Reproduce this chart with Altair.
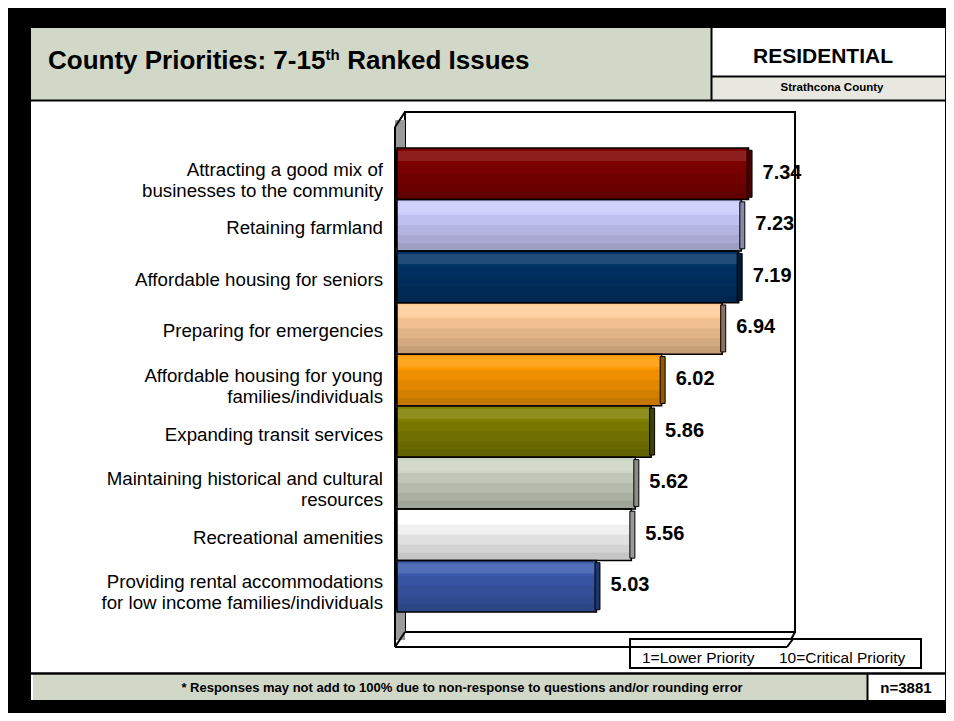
import altair as alt
import pandas as pd

# ---- data ----
categories = [
    "Attracting a good mix of\nbusinesses to the community",
    "Retaining farmland",
    "Affordable housing for seniors",
    "Preparing for emergencies",
    "Affordable housing for young\nfamilies/individuals",
    "Expanding transit services",
    "Maintaining historical and cultural\nresources",
    "Recreational amenities",
    "Providing rental accommodations\nfor low income families/individuals",
]
values = [7.34, 7.23, 7.19, 6.94, 6.02, 5.86, 5.62, 5.56, 5.03]
axis_min, axis_max = 2, 8

# ---- styles ----
bar_colors = ["#800000", "#ccccff", "#003366", "#ffcc99", "#ff9900",
              "#808000", "#cdd4c4", "#ffffff", "#3a5aac"]
cap_colors = ["#4a0000", "#8888aa", "#001a33", "#8a7262", "#8f5a00",
              "#404000", "#8a8f82", "#9a9a9a", "#1f3570"]
FONT = "Liberation Sans"

df = pd.DataFrame({"cat": categories, "value": values,
                   "start": [axis_min] * len(values),
                   "label": [f"{v:.2f}" for v in values]})
one = pd.DataFrame({"k": [0]})

yscale = alt.Scale(domain=categories, range=[140, 604], paddingInner=0, paddingOuter=0)
xscale = alt.Scale(domain=[axis_min, axis_max], range=[389, 784], zero=False, nice=False)
Y = alt.Y("cat:N", scale=yscale, axis=None, sort=None)
X = alt.X("value:Q", scale=xscale, axis=None)
BAND = (604 - 140) / len(categories)


def rect(x, x2, y, y2, fill, stroke=None, sw=0):
    kw = dict(fill=fill)
    if stroke:
        kw.update(stroke=stroke, strokeWidth=sw)
    return alt.Chart(one).mark_rect(**kw).encode(
        x=alt.value(x), x2=alt.value(x2), y=alt.value(y), y2=alt.value(y2))


def rule(x, y, x2, y2, sw=2, color="black"):
    return alt.Chart(one).mark_rule(color=color, strokeWidth=sw).encode(
        x=alt.value(x), x2=alt.value(x2), y=alt.value(y), y2=alt.value(y2))


def text(t, x, y, size, bold=False, align="center", color="black"):
    return alt.Chart(one).mark_text(
        text=t, font=FONT, fontSize=size, fontWeight="bold" if bold else "normal",
        align=align, baseline="middle", color=color).encode(
        x=alt.value(x), y=alt.value(y))


layers = []
# slide
layers.append(rect(23, 937, 20, 692, "white"))
# header
layers.append(rect(23, 703, 20, 92, "#d2d8c8"))
layers.append(rect(704, 937, 69, 92, "#e8e8e0"))
layers.append(rule(703.5, 20, 703.5, 92, 2))
layers.append(rule(703, 68.5, 937, 68.5, 2))
layers.append(rule(23, 92.5, 937, 92.5, 2))

title_size = 26
title_y = 53
layers.append(text("County Priorities: 7-15", 40, title_y, title_size, True, "left"))
layers.append(text("th", 40 + 10.669 * title_size, title_y - 6, 15, True, "left"))
layers.append(text("Ranked Issues", 40 + 10.669 * title_size + 0.566 * title_size + 0.278 * title_size,
                   title_y, title_size, True, "left"))
layers.append(text("RESIDENTIAL", 815, 49, 21, True))
layers.append(text("Strathcona County", 824, 80, 11.5, True))

# footer
layers.append(rect(25, 859, 667, 692, "#d2d8c8"))
layers.append(rule(23, 665.5, 937, 665.5, 2.5))
layers.append(rule(859.5, 666, 859.5, 692, 2))
layers.append(text("* Responses may not add to 100% due to non-response to questions and/or rounding error",
                   454, 680, 13, True))
layers.append(text("n=3881", 898, 680, 15, True))

# 3D frame: back wall, left wall, floor
layers.append(rect(397, 787, 104, 624, "white", "black", 2))
layers.append(rect(387, 397, 112, 632, "#9a9a9a"))
layers.append(rule(387, 119, 397, 104, 2))
layers.append(rule(387, 119, 387, 639, 2))
layers.append(rule(387, 639, 397, 624, 2))
layers.append(rule(387, 639, 779, 639, 2))
layers.append(rule(779, 639, 787, 624, 2))

# bars
base = alt.Chart(df)
layers.append(base.mark_bar().encode(
    x=X, x2="start:Q", y=Y,
    color=alt.Color("cat:N", scale=alt.Scale(domain=categories, range=bar_colors), legend=None)))
# stepped shading (cylinder look): darker towards the bottom, lighter at the top
for h in [36, 26, 16, 8]:
    layers.append(base.mark_bar(fill="black", opacity=0.06, height=h,
                                yOffset=(BAND - h) / 2).encode(x=X, x2="start:Q", y=Y))
layers.append(base.mark_bar(fill="white", opacity=0.12, height=10,
                            yOffset=-(BAND - 10) / 2 + 3).encode(x=X, x2="start:Q", y=Y))
layers.append(base.mark_bar(fill=None, stroke="black", strokeWidth=1.5).encode(
    x=X, x2="start:Q", y=Y))
layers.append(base.mark_tick(orient="vertical", thickness=5, size=47, xOffset=1,
                             stroke="black", strokeWidth=1, opacity=1).encode(
    x=X, y=Y,
    color=alt.Color("cat:N", scale=alt.Scale(domain=categories, range=cap_colors), legend=None)))
layers.append(base.mark_tick(orient="vertical", thickness=2, size=47, color="black", opacity=1,
                             xOffset=-1).encode(
    x=alt.X("start:Q", scale=xscale, axis=None), y=Y))

# value labels
layers.append(base.mark_text(align="left", baseline="middle", dx=14, dy=-1, font=FONT,
                             fontSize=20, fontWeight="bold", color="black").encode(
    x=X, y=Y, text="label:N"))
# category labels: single-line sit slightly low, two-line blocks slightly high
layers.append(base.transform_filter("indexof(datum.cat, '\\n') < 0").mark_text(
    align="right", baseline="middle", dy=3, font=FONT, fontSize=18.7, color="black").encode(
    x=alt.value(375), y=Y, text="cat:N"))
layers.append(base.transform_filter("indexof(datum.cat, '\\n') >= 0").mark_text(
    align="right", baseline="middle", dy=-4, lineBreak="\n", lineHeight=21,
    font=FONT, fontSize=18.7, color="black").encode(
    x=alt.value(375), y=Y, text="cat:N"))

# legend box
layers.append(rect(622, 913, 631, 660, "white", "black", 2))
layers.append(rule(622, 639, 779, 639, 2))
layers.append(rule(779, 639, 785, 631, 2))
layers.append(text("1=Lower Priority", 634, 650, 15.5, False, "left"))
layers.append(text("10=Critical Priority", 771, 650, 15.5, False, "left"))

chart = alt.layer(*layers).resolve_scale(color="independent").properties(
    width=938, height=705, padding=0,
    autosize=alt.AutoSizeParams(type="none"),
    background="black",
).configure_view(stroke=None)

chart.save("out.html", embed_options={"renderer": "svg", "actions": False})
